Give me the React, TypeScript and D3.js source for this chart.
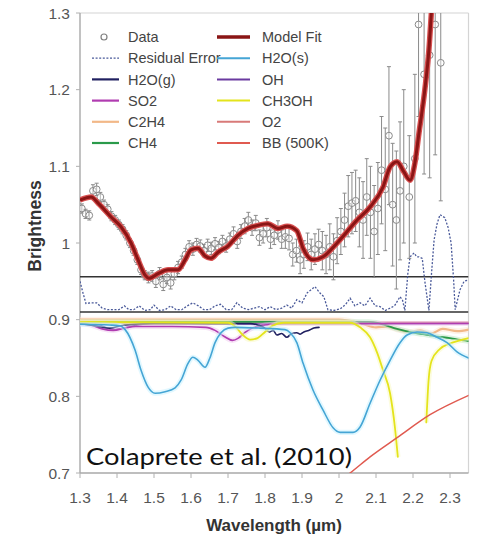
import React from 'react';
import * as d3 from 'd3';

type P = [number, number];

const xTicks = [1.3, 1.4, 1.5, 1.6, 1.7, 1.8, 1.9, 2.0, 2.1, 2.2, 2.3];
const xTickLabels = ['1.3', '1.4', '1.5', '1.6', '1.7', '1.8', '1.9', '2', '2.1', '2.2', '2.3'];
const yTicks = [0.7, 0.8, 0.9, 1.0, 1.1, 1.2, 1.3];
const yTickLabels = ['0.7', '0.8', '0.9', '1', '1.1', '1.2', '1.3'];

const legendLeft = ['Data', 'Residual Error', 'H2O(g)', 'SO2', 'C2H4', 'CH4'];
const legendRight = ['Model Fit', 'H2O(s)', 'OH', 'CH3OH', 'O2', 'BB (500K)'];

// Observed data: wavelength, brightness, error
const dataWavelength = [1.305, 1.315, 1.325, 1.335, 1.345, 1.355, 1.365, 1.375, 1.385, 1.395, 1.405, 1.415, 1.425, 1.435, 1.445, 1.455, 1.465, 1.475, 1.485, 1.495, 1.505, 1.515, 1.525, 1.535, 1.545, 1.555, 1.565, 1.575, 1.585, 1.595, 1.605, 1.615, 1.625, 1.635, 1.645, 1.655, 1.665, 1.675, 1.685, 1.695, 1.705, 1.715, 1.725, 1.735, 1.745, 1.755, 1.765, 1.775, 1.785, 1.795, 1.805, 1.815, 1.825, 1.835, 1.845, 1.855, 1.865, 1.875, 1.885, 1.895, 1.905, 1.915, 1.925, 1.935, 1.945, 1.955, 1.965, 1.975, 1.985, 1.995, 2.005, 2.015, 2.025, 2.035, 2.045, 2.055, 2.065, 2.075, 2.085, 2.095, 2.105, 2.115, 2.125, 2.135, 2.145, 2.155, 2.165, 2.175, 2.19, 2.205, 2.215, 2.23, 2.245, 2.26, 2.275];
const dataBrightness = [1.045, 1.038, 1.036, 1.068, 1.070, 1.060, 1.050, 1.044, 1.035, 1.030, 1.024, 1.018, 1.010, 1.000, 0.990, 0.978, 0.965, 0.958, 0.955, 0.957, 0.950, 0.960, 0.946, 0.955, 0.948, 0.960, 0.968, 0.975, 0.985, 0.995, 0.992, 0.998, 0.996, 0.990, 0.997, 0.993, 0.999, 0.994, 1.002, 0.996, 1.005, 1.012, 1.002, 1.015, 1.022, 1.030, 1.020, 1.026, 1.007, 1.012, 1.020, 1.005, 1.010, 1.017, 1.005, 1.008, 1.006, 0.985, 0.990, 0.978, 0.985, 0.995, 0.985, 0.992, 0.998, 0.990, 0.985, 0.995, 0.982, 1.003, 1.015, 1.030, 1.048, 1.052, 1.055, 1.040, 1.030, 1.060, 1.040, 1.015, 1.045, 1.095, 1.070, 1.140, 1.050, 1.030, 1.068, 1.100, 1.060, 1.110, 1.285, 1.220, 1.245, 1.285, 1.235];
const dataError = [0.006, 0.006, 0.006, 0.008, 0.008, 0.006, 0.006, 0.006, 0.006, 0.006, 0.006, 0.006, 0.006, 0.006, 0.006, 0.006, 0.006, 0.006, 0.007, 0.007, 0.008, 0.008, 0.008, 0.008, 0.008, 0.008, 0.008, 0.008, 0.008, 0.008, 0.008, 0.008, 0.008, 0.008, 0.008, 0.008, 0.008, 0.008, 0.008, 0.008, 0.008, 0.009, 0.009, 0.009, 0.010, 0.010, 0.010, 0.010, 0.010, 0.012, 0.012, 0.012, 0.012, 0.012, 0.012, 0.015, 0.015, 0.015, 0.015, 0.018, 0.018, 0.018, 0.020, 0.020, 0.020, 0.025, 0.025, 0.030, 0.030, 0.030, 0.030, 0.035, 0.040, 0.040, 0.040, 0.045, 0.050, 0.050, 0.060, 0.060, 0.060, 0.070, 0.080, 0.090, 0.080, 0.090, 0.090, 0.100, 0.080, 0.110, 0.120, 0.130, 0.160, 0.170, 0.180];

const modelFit: P[] = [[1.300, 1.056], [1.330, 1.060], [1.349, 1.052], [1.384, 1.034], [1.411, 1.021], [1.438, 1.000], [1.457, 0.978], [1.476, 0.958], [1.486, 0.954], [1.511, 0.960], [1.538, 0.965], [1.565, 0.965], [1.584, 0.978], [1.600, 0.991], [1.619, 0.993], [1.638, 0.983], [1.654, 0.980], [1.673, 0.988], [1.700, 0.996], [1.727, 1.010], [1.754, 1.019], [1.781, 1.023], [1.808, 1.025], [1.835, 1.019], [1.860, 1.022], [1.886, 1.016], [1.903, 0.993], [1.930, 0.978], [1.957, 0.982], [1.995, 1.000], [2.049, 1.030], [2.084, 1.047], [2.119, 1.073], [2.138, 1.099], [2.157, 1.106], [2.175, 1.093], [2.192, 1.082], [2.205, 1.104], [2.216, 1.143], [2.232, 1.200], [2.243, 1.252], [2.251, 1.310], [2.258, 1.360]];

const residual: P[] = [[1.300, 0.950], [1.308, 0.935], [1.316, 0.921], [1.330, 0.922], [1.345, 0.922], [1.360, 0.915], [1.375, 0.913], [1.390, 0.913], [1.405, 0.913], [1.420, 0.918], [1.432, 0.913], [1.445, 0.913], [1.460, 0.918], [1.475, 0.912], [1.490, 0.913], [1.500, 0.919], [1.515, 0.912], [1.530, 0.913], [1.545, 0.918], [1.560, 0.913], [1.575, 0.913], [1.590, 0.918], [1.605, 0.922], [1.620, 0.918], [1.635, 0.913], [1.650, 0.913], [1.665, 0.918], [1.680, 0.920], [1.695, 0.913], [1.710, 0.913], [1.724, 0.922], [1.740, 0.915], [1.755, 0.913], [1.770, 0.915], [1.785, 0.917], [1.800, 0.913], [1.814, 0.917], [1.830, 0.913], [1.845, 0.915], [1.859, 0.919], [1.872, 0.915], [1.886, 0.926], [1.900, 0.922], [1.914, 0.935], [1.935, 0.943], [1.948, 0.935], [1.959, 0.930], [1.970, 0.913], [1.985, 0.912], [2.003, 0.914], [2.018, 0.920], [2.030, 0.928], [2.043, 0.918], [2.057, 0.922], [2.070, 0.918], [2.084, 0.928], [2.098, 0.918], [2.111, 0.917], [2.125, 0.912], [2.138, 0.915], [2.150, 0.918], [2.165, 0.930], [2.172, 0.925], [2.178, 0.912], [2.186, 0.960], [2.192, 0.982], [2.203, 0.987], [2.210, 0.982], [2.216, 0.982], [2.225, 0.980], [2.232, 0.950], [2.243, 0.912], [2.250, 0.960], [2.257, 1.004], [2.265, 1.025], [2.273, 1.037], [2.286, 1.033], [2.295, 1.020], [2.303, 1.000], [2.310, 0.950], [2.314, 0.913], [2.327, 0.939], [2.338, 0.950], [2.350, 0.952]];

const referenceLines = [0.956, 0.910];

const h2oIce: P[] = [[1.300, 0.894], [1.380, 0.893], [1.408, 0.892], [1.422, 0.887], [1.449, 0.860], [1.465, 0.834], [1.484, 0.812], [1.503, 0.804], [1.530, 0.806], [1.557, 0.811], [1.573, 0.821], [1.592, 0.843], [1.605, 0.851], [1.619, 0.847], [1.638, 0.838], [1.651, 0.850], [1.665, 0.870], [1.681, 0.883], [1.700, 0.889], [1.719, 0.890], [1.786, 0.889], [1.854, 0.887], [1.868, 0.883], [1.886, 0.870], [1.903, 0.843], [1.930, 0.808], [1.957, 0.782], [1.984, 0.759], [2.003, 0.753], [2.038, 0.753], [2.057, 0.760], [2.084, 0.791], [2.111, 0.821], [2.138, 0.847], [2.165, 0.870], [2.184, 0.880], [2.211, 0.884], [2.238, 0.883], [2.265, 0.877], [2.292, 0.870], [2.319, 0.858], [2.350, 0.850]];

const h2oGas: P[] = [[1.300, 0.895], [1.340, 0.892], [1.380, 0.889], [1.420, 0.893], [1.500, 0.895], [1.760, 0.895], [1.780, 0.893], [1.797, 0.890], [1.812, 0.884], [1.822, 0.886], [1.832, 0.880], [1.845, 0.882], [1.859, 0.877], [1.872, 0.882], [1.886, 0.883], [1.895, 0.881], [1.905, 0.884], [1.918, 0.886], [1.932, 0.889], [1.946, 0.890]];

const so2: P[] = [[1.300, 0.895], [1.330, 0.893], [1.360, 0.888], [1.390, 0.886], [1.420, 0.889], [1.450, 0.891], [1.550, 0.891], [1.640, 0.890], [1.665, 0.886], [1.690, 0.878], [1.712, 0.873], [1.728, 0.876], [1.745, 0.883], [1.765, 0.889], [1.800, 0.893], [1.850, 0.895], [2.350, 0.895]];

const oh: P[] = [[1.300, 0.895], [1.350, 0.893], [1.390, 0.887], [1.430, 0.890], [1.470, 0.894], [2.350, 0.895]];

const ch3ohA: P[] = [[1.300, 0.897], [1.700, 0.896], [1.722, 0.890], [1.740, 0.880], [1.760, 0.874], [1.780, 0.876], [1.800, 0.884], [1.820, 0.892], [1.850, 0.896], [2.030, 0.896], [2.057, 0.890], [2.084, 0.877], [2.103, 0.857], [2.119, 0.834], [2.138, 0.804], [2.151, 0.760], [2.159, 0.721]];
const ch3ohB: P[] = [[2.236, 0.766], [2.242, 0.820], [2.250, 0.846], [2.273, 0.862], [2.300, 0.869], [2.327, 0.873], [2.350, 0.876]];

const c2h4: P[] = [[1.300, 0.900], [2.000, 0.900], [2.060, 0.895], [2.100, 0.890], [2.130, 0.891], [2.160, 0.887], [2.190, 0.884], [2.220, 0.886], [2.250, 0.882], [2.280, 0.888], [2.320, 0.885], [2.350, 0.887]];

const o2: P[] = [[1.300, 0.896], [2.350, 0.896]];

const ch4: P[] = [[1.300, 0.897], [2.080, 0.897], [2.110, 0.895], [2.157, 0.888], [2.190, 0.884], [2.227, 0.881], [2.265, 0.878], [2.300, 0.876], [2.335, 0.873], [2.350, 0.872]];

const bb500: P[] = [[1.990, 0.686], [2.030, 0.700], [2.084, 0.721], [2.157, 0.746], [2.246, 0.776], [2.354, 0.802]];

const COLORS: Record<string, string> = {
  'Data': '#888888',
  'Residual Error': '#4a5a9a',
  'H2O(g)': '#202060',
  'SO2': '#b03cb0',
  'C2H4': '#f2b888',
  'CH4': '#2a9a4a',
  'Model Fit': '#8a1515',
  'H2O(s)': '#45a5d5',
  'OH': '#6a3aa0',
  'CH3OH': '#e4e41c',
  'O2': '#d87a78',
  'BB (500K)': '#e05a50',
};

export default function App() {
  const x = d3.scaleLinear().domain([1.3, 2.35]).range([80, 468.5]);
  const y = d3.scaleLinear().domain([0.7, 1.3]).range([473, 13]);
  const line = d3.line<P>().x(d => x(d[0])).y(d => y(d[1])).curve(d3.curveMonotoneX);
  const rough = d3.line<P>().x(d => x(d[0])).y(d => y(d[1])).curve(d3.curveLinear);

  const font = 'Liberation Sans, Arial, Helvetica, sans-serif';
  const [x0, x1] = x.range();
  const [yb, yt] = y.range();

  const curve = (d: P[], color: string, w: number, halo?: string, key?: string) => (
    <g key={key}>
      {halo && <path d={line(d) || ''} fill="none" stroke={halo} strokeWidth={w + 3.5} strokeOpacity={0.5} strokeLinejoin="round" />}
      <path d={line(d) || ''} fill="none" stroke={color} strokeWidth={w} strokeLinejoin="round" strokeLinecap="round" />
    </g>
  );

  const legendRow = (i: number) => 37 + i * 21.2;

  return (
    <svg width={477} height={539} style={{ position: 'absolute', left: 0, top: 0, background: '#fff' }} fontFamily={font}>
      <defs>
        <clipPath id="plot">
          <rect x={x0} y={yt} width={x1 - x0} height={yb - yt} />
        </clipPath>
      </defs>
      <rect x={0} y={0} width={477} height={539} fill="#fff" />

      {/* frame */}
      <line x1={x0} x2={x1} y1={yt} y2={yt} stroke="#d4d4d4" strokeWidth={1.2} />
      <line x1={x1} x2={x1} y1={yt} y2={yb} stroke="#d4d4d4" strokeWidth={1.2} />
      <line x1={x0} x2={x0} y1={yt} y2={yb} stroke="#a8a8a8" strokeWidth={1.4} />
      <line x1={x0} x2={x1} y1={yb} y2={yb} stroke="#a8a8a8" strokeWidth={1.4} />

      {/* ticks */}
      {yTicks.map((t, i) => (
        <g key={'yt' + i}>
          <line x1={x0 - 4} x2={x0} y1={y(t)} y2={y(t)} stroke="#b0b0b0" strokeWidth={1} />
          <text x={70} y={y(t)} dy="0.36em" textAnchor="end" fontSize={15.5} fill="#555">{yTickLabels[i]}</text>
        </g>
      ))}
      {xTicks.map((t, i) => (
        <g key={'xt' + i}>
          <line x1={x(t)} x2={x(t)} y1={yb} y2={yb + 5} stroke="#b0b0b0" strokeWidth={1} />
          <text x={x(t)} y={503} textAnchor="middle" fontSize={15.5} fill="#555">{xTickLabels[i]}</text>
        </g>
      ))}

      <text transform={`translate(41,226) rotate(-90)`} textAnchor="middle" fontSize={17.5} fontWeight="bold" fill="#333">Brightness</text>
      <text x={274} y={531} textAnchor="middle" fontSize={17} fontWeight="bold" fill="#333">Wavelength (µm)</text>

      <g clipPath="url(#plot)">
        {/* reference lines */}
        {referenceLines.map((v, i) => (
          <line key={'rl' + i} x1={x0} x2={x1} y1={y(v)} y2={y(v)} stroke="#333" strokeWidth={1.6} />
        ))}

        {/* absorption components */}
        {curve(c2h4, COLORS['C2H4'], 2.2, '#fde8d6', 'c2h4')}
        {curve(o2, COLORS['O2'], 2.6, undefined, 'o2')}
        {curve(ch4, COLORS['CH4'], 1.8, '#bfe8c8', 'ch4')}
        {curve(oh, COLORS['OH'], 1.6, undefined, 'oh')}
        {curve(so2, COLORS['SO2'], 1.6, '#f0c8f0', 'so2')}
        {curve(h2oGas, COLORS['H2O(g)'], 1.6, undefined, 'h2og')}
        {curve(ch3ohA, COLORS['CH3OH'], 1.8, '#fafac0', 'ch3a')}
        {curve(ch3ohB, COLORS['CH3OH'], 1.8, '#fafac0', 'ch3b')}
        {curve(h2oIce, COLORS['H2O(s)'], 1.6, '#c6f2ff', 'h2os')}
        {curve(bb500, COLORS['BB (500K)'], 1.5, undefined, 'bb')}

        {/* residual */}
        <path d={rough(residual) || ''} fill="none" stroke={COLORS['Residual Error']} strokeWidth={1.3} strokeDasharray="2,1.6" />

        {/* data */}
        {dataWavelength.map((w, i) => {
          const cx = x(w);
          const v = dataBrightness[i];
          const e = dataError[i];
          return (
            <g key={'d' + i} stroke="#8a8a8a" fill="none" strokeWidth={1}>
              <line x1={cx} x2={cx} y1={y(v - e)} y2={y(v + e)} />
              <line x1={cx - 2} x2={cx + 2} y1={y(v - e)} y2={y(v - e)} />
              <line x1={cx - 2} x2={cx + 2} y1={y(v + e)} y2={y(v + e)} />
              <circle cx={cx} cy={y(v)} r={3.4} fill="rgba(255,255,255,0.4)" />
            </g>
          );
        })}

        {/* model fit */}
        <path d={line(modelFit) || ''} fill="none" stroke="#d85050" strokeWidth={5.5} strokeLinejoin="round" />
        <path d={line(modelFit) || ''} fill="none" stroke={COLORS['Model Fit']} strokeWidth={3} strokeLinejoin="round" />
      </g>

      {/* legend */}
      {legendLeft.map((name, i) => {
        const cy = legendRow(i);
        return (
          <g key={'ll' + i}>
            {name === 'Data' ? (
              <circle cx={104} cy={cy} r={3} fill="none" stroke="#808080" strokeWidth={1.2} />
            ) : name === 'Residual Error' ? (
              <line x1={92} x2={119} y1={cy} y2={cy} stroke={COLORS[name]} strokeWidth={1.3} strokeDasharray="2,1.6" />
            ) : (
              <line x1={92} x2={119} y1={cy} y2={cy} stroke={COLORS[name]} strokeWidth={2.2} />
            )}
            <text x={128} y={cy} dy="0.36em" fontSize={14.5} fill="#444">{name}</text>
          </g>
        );
      })}
      {legendRight.map((name, i) => {
        const cy = legendRow(i);
        return (
          <g key={'lr' + i}>
            <line x1={217} x2={250} y1={cy} y2={cy} stroke={COLORS[name]} strokeWidth={name === 'Model Fit' ? 3.5 : 2} />
            <text x={262} y={cy} dy="0.36em" fontSize={14.5} fill="#444">{name}</text>
          </g>
        );
      })}

      <text x={86} y={465} fontSize={24} fontFamily="Lato, 'Open Sans', sans-serif" fill="#111" textLength={266} lengthAdjust="spacingAndGlyphs">Colaprete et al. (2010)</text>
    </svg>
  );
}
